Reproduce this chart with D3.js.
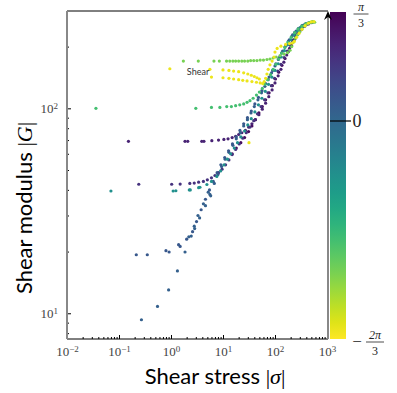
<!DOCTYPE html>
<html>
<head>
<meta charset="utf-8">
<script src="https://cdn.jsdelivr.net/npm/d3@7"></script>
<style>
  body { margin: 0; background: #fff; }
  svg { display: block; }
</style>
</head>
<body>
<div id="chart"></div>
<script>
// ---- data: [stress |sigma|, modulus |G|], phase per series ----
var xTicks = [1e-2, 1e-1, 1e0, 1e1, 1e2, 1e3];
var xExps = ["−2", "−1", "0", "1", "2", "3"];
var yTicks = [10, 100];
var yExps = ["1", "2"];

var purpleBand = [[15,60],[18,64],[22,68],[26,72],[31,77],[36,82],[42,88],[49,95],[57,102],[66,110],[77,119],[89,129],[102,139],[118,150],[136,162],[156,175],[180,189],[207,203],[238,217],[275,230],[320,242],[375,252],[440,258],[510,262]];
var purpleHigh = [[0.152,69],[1.86,69],[2.1,69],[3.9,69],[4.3,69],[6.1,69.5],[8.2,70],[10.4,70.5],[12.5,71],[15,72],[17.5,73],[20,74.5],[23,76],[27,78],[31,81],[36,84],[42,88],[49,93],[57,99],[66,106],[76,114],[88,123],[100,133],[115,144],[130,155],[148,168],[168,182],[190,196],[215,210],[245,224],[280,237],[320,247],[370,255],[430,260],[500,263]];
var purpleLow = [[0.24,42.6],[1.03,42.6],[1.5,42.7],[2.3,43],[2.8,43.2],[3.4,43.6],[4.2,44],[5.0,44.8],[6.0,45.8],[7.0,47],[8.2,48.5],[9.6,50.5],[11.2,53],[13,56],[15,59.5],[17.5,63],[20.5,67],[24,71.5],[28,76],[33,81],[39,87],[46,94],[54,102],[63,110],[73,119],[85,129],[98,140],[113,152],[130,164],[150,177],[172,190],[197,203],[225,216],[260,229],[300,240],[350,250],[410,257],[480,262]];
var blueRise = [[0.27,9.3],[0.55,10.8],[0.9,13],[1.33,16.1],[1.86,19.9],[2.2,23.6],[2.45,23.8],[2.8,26.6],[2.85,25.9],[3.3,30],[3.55,29.2],[4.2,34.2],[4.6,33.5],[5.2,39],[5.6,38],[5.8,37.4],[6.8,43],[8,47.5],[9.4,52],[11,56.5],[13,61],[15.5,66],[18,71],[21.5,76],[25,82],[29.5,88],[34.5,95],[40,102],[47,110],[55,119],[64,128],[74,138],[86,149],[100,161],[116,173],[134,186],[155,199],[180,212],[208,224],[240,235],[280,245],[330,253],[390,259],[460,262],[540,264]];
var blueFlat = [[0.215,19.3],[0.35,19.3],[0.8,20.2],[0.92,19.9],[1.4,21.6],[1.5,21.2],[2.0,23],[2.6,25],[3.1,28],[3.8,32],[4.6,36],[5.5,40],[6.5,44],[7.7,48.5],[9.1,53],[10.8,57.5],[12.8,62],[15.2,67],[18,72.5],[21.2,78],[25,84],[29.5,90],[35,97],[41,105],[48,113],[56,122],[66,132],[77,142],[90,153],[104,165],[120,177],[140,190],[162,203],[188,216],[218,228],[255,238],[300,247],[355,255],[420,260],[495,263]];
var tealLow = [[0.07,39.5],[1.1,39.5],[1.24,39.6],[2.25,40],[2.35,40],[3.4,41],[3.6,41.2],[4.9,42.5],[6.0,44],[7.6,46.5],[9,49.5],[10.5,53],[12.2,56.5],[14,60],[16.5,64],[19,68],[22,72.5],[26,77.5],[30,83],[35,89],[41,96],[48,104],[56,112],[65,121],[75,131],[87,142],[100,153],[115,165],[132,178],[152,191],[175,204],[200,216],[232,228],[270,239],[315,248],[370,255],[430,260],[500,263]];
var greenMid = [[0.036,100],[3.0,100],[6.0,101],[8.7,101],[11.8,102],[14.5,102],[17.5,103],[21,104],[25,105],[29,107],[33,109],[38,112],[44,116],[50,120],[57,125],[64,131],[72,138],[82,146],[92,155],[104,164],[118,174],[135,186],[155,198],[178,210],[205,222],[240,234],[280,244],[330,252],[390,258],[460,262],[530,264]];
var greenHigh = [[1.73,170],[3.35,170],[6.7,170],[8.5,170],[11.7,170],[13.5,170],[15.5,170],[17.5,170],[20,170],[23,170],[26,170],[30,170],[34,171],[39,171],[45,171],[52,172],[60,172],[70,173],[80,174],[92,176],[105,178],[125,181],[150,184],[175,187],[195,192],[210,200],[225,210],[245,220],[270,228],[300,236],[330,244],[370,252],[410,258],[460,262],[520,264],[580,263]];
var yellowShear = [[0.95,156],[5.6,155],[10,154],[13,153],[16,152],[20,151],[25,149],[30,147],[35,145],[40,143],[45,141],[50,139],[6.0,142],[10,141],[13,140],[16,139],[20,138],[24,137],[29,136],[36,135],[44,134],[52,133],[58,132],[62,135],[66,140],[70,147],[74,155],[80,163],[88,170],[96,178],[100,188],[110,196],[130,201],[160,205],[190,207],[215,208],[235,212],[260,222],[290,232],[330,243],[380,253],[440,260],[500,264],[560,265],[31.6,68]];

var seriesList = [purpleBand, purpleHigh, purpleLow, blueRise, blueFlat, tealLow, greenMid, greenHigh, yellowShear];
var seriesPhase = [0.95, 0.75, 0.6, 0.1, 0.2, -0.52, -1.15, -1.45, -2.0];

var cbTicks = [Math.PI / 3, 0, -2 * Math.PI / 3];

// ---- layout ----
var width = 397, height = 393;
var plot = { left: 67, right: 327, top: 11, bottom: 339 };
var cb = { left: 330, right: 346, top: 12, bottom: 339 };

var svg = d3.select("#chart").append("svg")
    .attr("width", width)
    .attr("height", height)
    .style("font-family", "'Liberation Serif', serif");

svg.append("rect").attr("width", width).attr("height", height).attr("fill", "#fff");

var x = d3.scaleLog().domain([1e-2, 1e3]).range([plot.left, plot.right]);
var y = d3.scaleLog().domain([7.49, 298.4]).range([plot.bottom, plot.top]);
var color = d3.scaleSequential(d3.interpolateViridis).domain([Math.PI / 3, -2 * Math.PI / 3]);

// minor ticks
var minorX = x.ticks().filter(function(d) { return xTicks.indexOf(d) < 0; });
var minorY = y.ticks().filter(function(d) { return yTicks.indexOf(d) < 0; });

svg.append("g")
    .attr("transform", "translate(0," + plot.bottom + ")")
    .call(d3.axisBottom(x).tickValues(minorX).tickSize(-2).tickFormat(""))
    .call(function(g) { g.select(".domain").remove(); });

svg.append("g")
    .attr("transform", "translate(" + plot.left + ",0)")
    .call(d3.axisLeft(y).tickValues(minorY).tickSize(-2).tickFormat(""))
    .call(function(g) { g.select(".domain").remove(); });

// major ticks with 10^n labels
var xAxis = svg.append("g")
    .attr("transform", "translate(0," + plot.bottom + ")")
    .call(d3.axisBottom(x).tickValues(xTicks).tickSize(-4).tickPadding(8).tickFormat(""));
xAxis.select(".domain").remove();
xAxis.selectAll(".tick text").each(function(d, i) {
    var t = d3.select(this).attr("font-size", 13).attr("fill", "#444")
        .attr("font-family", "'Liberation Serif', serif");
    t.text("10");
    t.append("tspan").attr("dy", "-0.45em").attr("font-size", 9).text(xExps[i]);
});

var yAxis = svg.append("g")
    .attr("transform", "translate(" + plot.left + ",0)")
    .call(d3.axisLeft(y).tickValues(yTicks).tickSize(-4).tickPadding(9).tickFormat(""));
yAxis.select(".domain").remove();
yAxis.selectAll(".tick text").each(function(d, i) {
    var t = d3.select(this).attr("font-size", 13).attr("fill", "#444")
        .attr("font-family", "'Liberation Serif', serif");
    t.text("10");
    t.append("tspan").attr("dy", "-0.45em").attr("font-size", 9).text(yExps[i]);
});

// frame
svg.append("line").attr("x1", plot.left).attr("x2", plot.right + 1).attr("y1", plot.top).attr("y2", plot.top).attr("stroke", "#000");
svg.append("line").attr("x1", plot.left).attr("x2", plot.right + 1).attr("y1", plot.bottom).attr("y2", plot.bottom).attr("stroke", "#000");
svg.append("line").attr("x1", plot.left).attr("x2", plot.left).attr("y1", plot.top).attr("y2", plot.bottom).attr("stroke", "#888").attr("stroke-width", 2);

// points
var clip = svg.append("clipPath").attr("id", "clip").append("rect")
    .attr("x", plot.left).attr("y", plot.top)
    .attr("width", plot.right - plot.left).attr("height", plot.bottom - plot.top);

var pts = svg.append("g").attr("clip-path", "url(#clip)");
seriesList.forEach(function(s, i) {
    pts.selectAll(".s" + i)
        .data(s)
        .enter().append("circle")
        .attr("class", "s" + i)
        .attr("cx", function(d) { return x(d[0]); })
        .attr("cy", function(d) { return y(d[1]); })
        .attr("r", 1.6)
        .attr("fill", color(seriesPhase[i]));
});

svg.append("text")
    .attr("x", x(0.95) + 17)
    .attr("y", y(156) + 6)
    .attr("font-family", "Lato, sans-serif")
    .attr("font-size", 9)
    .attr("fill", "#333")
    .text("Shear");

// colorbar
var grad = svg.append("defs").append("linearGradient")
    .attr("id", "cbgrad").attr("x1", 0).attr("x2", 0).attr("y1", 0).attr("y2", 1);
d3.range(0, 1.0001, 0.05).forEach(function(t) {
    grad.append("stop").attr("offset", t).attr("stop-color", d3.interpolateViridis(t));
});
svg.append("rect")
    .attr("x", cb.left).attr("y", cb.top)
    .attr("width", cb.right - cb.left).attr("height", cb.bottom - cb.top)
    .attr("fill", "url(#cbgrad)");

var cbY = d3.scaleLinear().domain([Math.PI / 3, -2 * Math.PI / 3]).range([cb.top, cb.bottom]);
svg.append("line").attr("x1", cb.left).attr("x2", cb.right + 5)
    .attr("y1", cbY(cbTicks[1])).attr("y2", cbY(cbTicks[1])).attr("stroke", "#000").attr("stroke-width", 1.2);
svg.append("line").attr("x1", 328).attr("x2", 328).attr("y1", plot.top + 4).attr("y2", plot.bottom)
    .attr("stroke", "#888").attr("stroke-width", 2);
svg.append("path").attr("d", "M324,20 L328,11 L332,20 L328,17 Z").attr("fill", "#000");

// colorbar labels (fractions)
function fraction(cx, cy, top, bottom) {
    var g = svg.append("g").attr("font-size", 12).attr("text-anchor", "middle").attr("fill", "#222");
    g.append("text").attr("x", cx).attr("y", cy - 3).attr("font-style", "italic").text(top);
    g.append("line").attr("x1", cx - 6 - 1.5 * top.length).attr("x2", cx + 6 + 1.5 * top.length)
        .attr("y1", cy).attr("y2", cy).attr("stroke", "#222").attr("stroke-width", 0.8);
    g.append("text").attr("x", cx).attr("y", cy + 12.5).text(bottom);
}
fraction(361, cbY(cbTicks[0]) + 2, "π", "3");
svg.append("text").attr("x", 357).attr("y", cbY(cbTicks[1]) + 6)
    .attr("text-anchor", "middle").attr("font-size", 18).attr("fill", "#222").text("0");
svg.append("text").attr("x", 357).attr("y", cbY(cbTicks[2]) + 8)
    .attr("text-anchor", "middle").attr("font-size", 17).attr("fill", "#222").text("−");
fraction(375, cbY(cbTicks[2]) + 3, "2π", "3");

// axis titles
var xt = svg.append("text")
    .attr("x", 215).attr("y", 384)
    .attr("text-anchor", "middle")
    .attr("font-family", "Lato, sans-serif")
    .attr("font-size", 22)
    .attr("fill", "#000");
xt.append("tspan").text("Shear stress ");
xt.append("tspan").attr("font-family", "'Liberation Serif', serif").text("|");
xt.append("tspan").attr("font-family", "'Liberation Serif', serif").attr("font-style", "italic").text("σ");
xt.append("tspan").attr("font-family", "'Liberation Serif', serif").text("|");

var yt = svg.append("text")
    .attr("transform", "translate(32,208) rotate(-90)")
    .attr("text-anchor", "middle")
    .attr("font-family", "Lato, sans-serif")
    .attr("font-size", 22)
    .attr("fill", "#000");
yt.append("tspan").text("Shear modulus ");
yt.append("tspan").attr("font-family", "'Liberation Serif', serif").text("|");
yt.append("tspan").attr("font-family", "'Liberation Serif', serif").attr("font-style", "italic").text("G");
yt.append("tspan").attr("font-family", "'Liberation Serif', serif").text("|");
</script>
</body>
</html>
